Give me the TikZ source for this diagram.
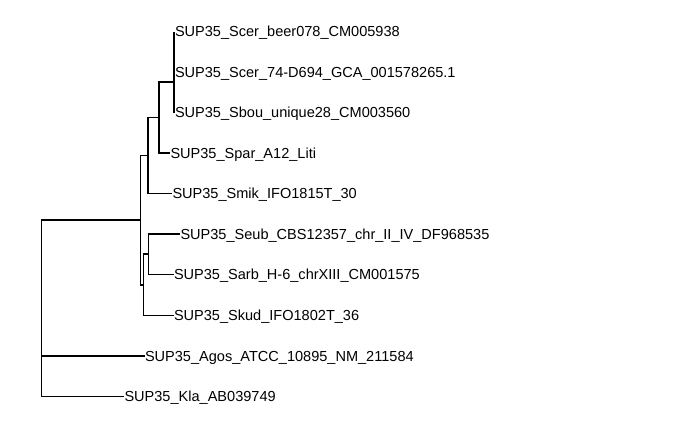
\documentclass[tikz,border=0pt]{standalone}
\usepackage{fontspec}
\setmainfont{Liberation Sans}
\begin{document}
\begin{tikzpicture}[x=1bp,y=-1bp,
  edge/.style={line width=1.1bp,black},
  tiplabel/.style={anchor=base west,inner sep=0pt,font=\fontsize{14.6}{17}\selectfont}]
\useasboundingbox (0,0) rectangle (700,432);
% internal nodes
\coordinate (root) at (41.7,324);
\coordinate (nbig) at (140.7,220);
\coordinate (n5)   at (148,155.5);
\coordinate (n4)   at (159,117.5);
\coordinate (n123) at (174,82);
\coordinate (n12)  at (174,52);
\coordinate (n678) at (143.3,285);
\coordinate (n67)  at (148.3,254);
% tips
\coordinate (t1)  at (174,31.5);
\coordinate (t2)  at (174,72);
\coordinate (t3)  at (174,112.5);
\coordinate (t4)  at (170,153);
\coordinate (t5)  at (172,193.5);
\coordinate (t6)  at (180,234);
\coordinate (t7)  at (173.5,274.5);
\coordinate (t8)  at (173.5,315.5);
\coordinate (t9)  at (144.5,356);
\coordinate (t10) at (124,396.5);
% edges
\draw[edge] (root) |- (nbig);
\draw[edge] (root) |- (t9);
\draw[edge] (root) |- (t10);
\draw[edge] (nbig) |- (n5);
\draw[edge] (nbig) |- (n678);
\draw[edge] (n5) |- (n4);
\draw[edge] (n5) |- (t5);
\draw[edge] (n4) |- (n123);
\draw[edge] (n4) |- (t4);
\draw[edge] (n123) |- (n12);
\draw[edge] (n123) |- (t3);
\draw[edge] (n12) |- (t1);
\draw[edge] (n12) |- (t2);
\draw[edge] (n678) |- (n67);
\draw[edge] (n678) |- (t8);
\draw[edge] (n67) |- (t6);
\draw[edge] (n67) |- (t7);
% labels
\path (t1) ++(0.8,5.3) node[tiplabel] (l1) {SUP35\_Scer\_beer078\_CM005938};
\path (t2) ++(0.8,5.3) node[tiplabel] (l2) {SUP35\_Scer\_74-D694\_GCA\_001578265.1};
\path (t3) ++(0.8,5.3) node[tiplabel] (l3) {SUP35\_Sbou\_unique28\_CM003560};
\path (t4) ++(0.3,5.3) node[tiplabel] (l4) {SUP35\_Spar\_A12\_Liti};
\path (t5) ++(0.3,5.3) node[tiplabel] (l5) {SUP35\_Smik\_IFO1815T\_30};
\path (t6) ++(0.3,5.3) node[tiplabel] (l6) {SUP35\_Seub\_CBS12357\_chr\_II\_IV\_DF968535};
\path (t7) ++(0.3,5.3) node[tiplabel] (l7) {SUP35\_Sarb\_H-6\_chrXIII\_CM001575};
\path (t8) ++(0.3,5.3) node[tiplabel] (l8) {SUP35\_Skud\_IFO1802T\_36};
\path (t9) ++(0.3,5.3) node[tiplabel] (l9) {SUP35\_Agos\_ATCC\_10895\_NM\_211584};
\path (t10) ++(0.3,5.3) node[tiplabel] (l10) {SUP35\_Kla\_AB039749};
\end{tikzpicture}
\end{document}
